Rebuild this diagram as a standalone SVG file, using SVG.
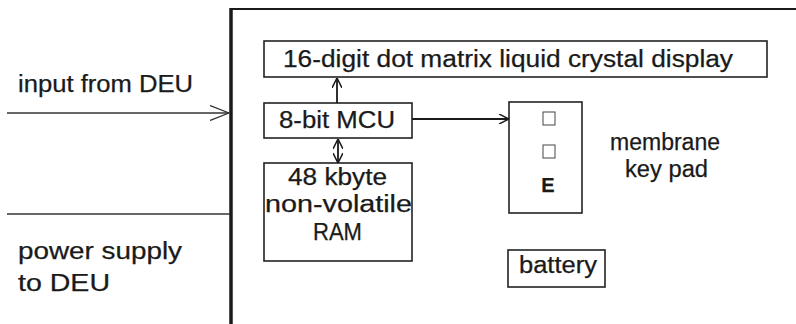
<svg xmlns="http://www.w3.org/2000/svg" width="796" height="324" viewBox="0 0 796 324">
<defs>
<marker id="open" viewBox="0 0 10 10" refX="10" refY="5" markerWidth="10" markerHeight="10" markerUnits="userSpaceOnUse" orient="auto-start-reverse">
<path d="M0,0 L10,5 L0,10" fill="none" stroke="#1a1a1a" stroke-width="1.5"/>
</marker>
<marker id="big" viewBox="0 0 20 16" refX="19" refY="8" markerWidth="20" markerHeight="16" markerUnits="userSpaceOnUse" orient="auto">
<path d="M0,0.5 L19,8 L0,15.5" fill="none" stroke="#333" stroke-width="1.3"/>
</marker>
</defs>
<style>
text{font-family:"Liberation Sans",Arial,sans-serif;font-size:23px;fill:#1a1a1a;stroke:#1a1a1a;stroke-width:0.25}
.box{fill:#fff;stroke:#222;stroke-width:1.6}
.key{fill:#fff;stroke:#444;stroke-width:1}
.c{fill:none;stroke:#1a1a1a;stroke-width:1.8}
</style>
<rect width="796" height="324" fill="#fff"/>
<g id="enclosure">
<line x1="230" y1="9" x2="796" y2="9" stroke="#1a1a1a" stroke-width="2.2"/>
<line x1="231" y1="8" x2="231" y2="324" stroke="#1a1a1a" stroke-width="3.5"/>
</g>
<g id="display">
<rect class="box" x="264" y="41" width="503" height="36"/>
<text x="283" y="67" textLength="450" lengthAdjust="spacingAndGlyphs">16-digit dot matrix liquid crystal display</text>
</g>
<g id="mcu">
<rect class="box" x="264" y="103" width="148" height="35"/>
<text x="279" y="128" textLength="116" lengthAdjust="spacingAndGlyphs">8-bit MCU</text>
</g>
<g id="ram">
<rect class="box" x="264" y="163" width="148" height="98"/>
<text x="288" y="185" textLength="99" lengthAdjust="spacingAndGlyphs">48 kbyte</text>
<text x="265" y="212" textLength="147" lengthAdjust="spacingAndGlyphs">non-volatile</text>
<text x="313" y="240" textLength="49" lengthAdjust="spacingAndGlyphs">RAM</text>
</g>
<g id="keypad">
<rect class="box" x="509" y="102" width="73" height="111"/>
<rect class="key" x="543" y="112" width="12" height="13"/>
<rect class="key" x="543" y="145" width="12" height="13"/>
<text x="548" y="192" text-anchor="middle" font-weight="bold" style="font-size:20px">E</text>
</g>
<g id="keypad-label">
<text x="610" y="150" textLength="110" lengthAdjust="spacingAndGlyphs">membrane</text>
<text x="625" y="177" textLength="83" lengthAdjust="spacingAndGlyphs">key pad</text>
</g>
<g id="battery">
<rect class="box" x="508" y="250" width="97" height="37"/>
<text x="519" y="273" textLength="78" lengthAdjust="spacingAndGlyphs">battery</text>
</g>
<g id="input-label">
<text x="18" y="92" textLength="175" lengthAdjust="spacingAndGlyphs">input from DEU</text>
</g>
<g id="power-label">
<text x="18" y="259" textLength="164" lengthAdjust="spacingAndGlyphs">power supply</text>
<text x="18" y="291" textLength="92" lengthAdjust="spacingAndGlyphs">to DEU</text>
</g>
<g id="connectors">
<line x1="7" y1="113" x2="229" y2="113" stroke="#333" stroke-width="1.3" marker-end="url(#big)"/>
<line x1="7" y1="214" x2="230" y2="214" stroke="#333" stroke-width="1.3"/>
<line class="c" x1="337" y1="103" x2="337" y2="78" marker-end="url(#open)"/>
<line class="c" x1="338" y1="139" x2="338" y2="163" marker-start="url(#open)" marker-end="url(#open)"/>
<line class="c" x1="412" y1="119" x2="509" y2="119" marker-end="url(#open)"/>
</g>
</svg>
